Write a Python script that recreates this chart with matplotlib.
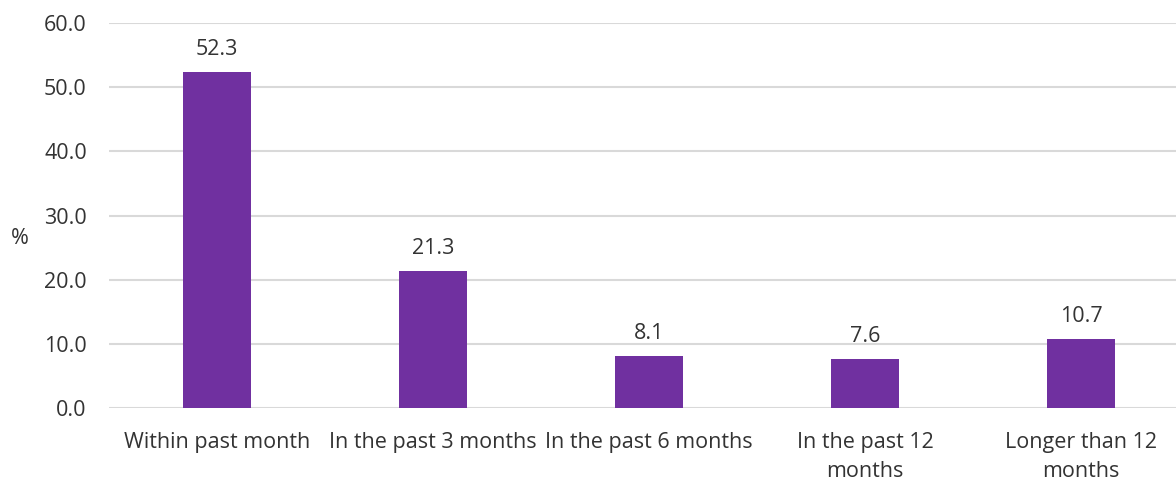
import numpy as np
import matplotlib.pyplot as plt

categories = ['Within past month', 'In the past 3 months', 'In the past 6 months',
              'In the past 12\nmonths', 'Longer than 12\nmonths']
values = [52.3, 21.3, 8.1, 7.6, 10.7]
yticks = [0, 10, 20, 30, 40, 50, 60]

plt.rcParams['font.family'] = ['Open Sans', 'DejaVu Sans']
text_color = '#333333'
fs = 15.5

fig = plt.figure(figsize=(11.76, 4.79), dpi=100)
ax = fig.add_axes([109 / 1176, 1 - 408 / 479, 1080 / 1176, 385 / 479])

x = np.arange(len(categories))
ax.bar(x, values, width=0.315, color='#7030A0', zorder=3)

for xi, v in zip(x, values):
    ax.annotate(f'{v:.1f}', (xi, v), xytext=(0, 9), textcoords='offset points',
                ha='center', va='bottom', fontsize=fs, color=text_color)

ax.set_xlim(-0.5, len(categories) - 0.5)
ax.set_ylim(0, 60)
ax.set_yticks(yticks)
ax.set_yticklabels([f'{t:.1f}' for t in yticks])
ax.set_xticks(x)
ax.set_xticklabels(categories, linespacing=1.55)
ax.tick_params(axis='both', length=0, labelsize=fs, labelcolor=text_color)
ax.tick_params(axis='y', pad=16)
ax.tick_params(axis='x', pad=17)
ax.grid(axis='y', color='#D9D9D9', linewidth=1.5, zorder=0)
for s in ax.spines.values():
    s.set_visible(False)

fig.text(20 / 1176, 1 - 238 / 479, '%', ha='center', va='center',
         fontsize=fs, color=text_color)

fig.savefig('out.png', dpi=100)
